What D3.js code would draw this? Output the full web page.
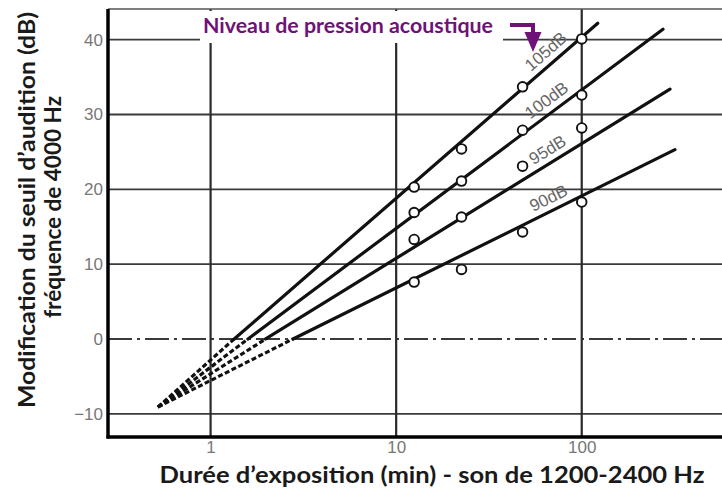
<!DOCTYPE html>
<html>
<head>
<meta charset="utf-8">
<script src="https://cdn.jsdelivr.net/npm/d3@7"></script>
<style>
  html, body { margin: 0; padding: 0; background: #fff; }
  svg { display: block; }
</style>
</head>
<body>
<svg id="chart" width="722" height="488"></svg>
<script>
// Sound pressure levels, one fitted line each
const levels = ["105dB", "100dB", "95dB", "90dB"];
// Exposure durations (min) of the measured points
const durations = [12.5, 22.5, 48, 100];
// Measured threshold shift (dB) at 4000 Hz, per level
const shifts = [
  [20.3, 25.4, 33.7, 40.1],
  [16.9, 21.1, 27.9, 32.6],
  [13.3, 16.3, 23.1, 28.2],
  [7.6, 9.3, 14.3, 18.3]
];
// Fitted lines: common extrapolated origin, zero crossing, far end
const lineStart = [0.52, -9.1];
const zeroCross = [1.34, 1.59, 1.98, 2.78];
const lineEndX = [122, 274, 299, 318];
const lineEndY = [42.2, 41.4, 33.4, 25.3];
// Axis ticks
const xTicks = [1, 10, 100];
const yTicks = [40, 30, 20, 10, 0, -10];

(function () {
const svg = d3.select("#chart");
const pLeft = 108, pRight = 722, pTop = 9, pBottom = 437;

const x = d3.scaleLog().domain([0.28, 570]).range([pLeft, pRight]);
const y = d3.scaleLinear().domain([-13.1, 44.1]).range([pBottom, pTop]);

// Grid
const grid = svg.append("g");
grid.selectAll("line.h").data(yTicks).join("line")
  .attr("x1", pLeft).attr("x2", pRight)
  .attr("y1", d => y(d)).attr("y2", d => y(d))
  .attr("stroke", "#3a3a3a")
  .attr("stroke-width", 1.8)
  .attr("stroke-dasharray", d => d === 0 ? "24 5 3 5" : null);
grid.selectAll("line.v").data(xTicks).join("line")
  .attr("x1", d => x(d)).attr("x2", d => x(d))
  .attr("y1", pTop).attr("y2", pBottom)
  .attr("stroke", "#2a2a2a")
  .attr("stroke-width", 2.2);
// top border
grid.append("line")
  .attr("x1", pLeft).attr("x2", pRight).attr("y1", pTop).attr("y2", pTop)
  .attr("stroke", "#555").attr("stroke-width", 1.6);

// Axes
const axisX = d3.axisBottom(x).tickValues(xTicks).tickFormat(d3.format("d")).tickSize(0).tickPadding(4);
const axisY = d3.axisLeft(y).tickValues(yTicks).tickFormat(d3.format("d")).tickSize(0).tickPadding(5);
const gx = svg.append("g").attr("transform", `translate(0,${pBottom})`).call(axisX);
const gy = svg.append("g").attr("transform", `translate(${pLeft},0)`).call(axisY);
[gx, gy].forEach(g => {
  g.select(".domain").remove();
  g.selectAll("text")
    .attr("fill", "#777")
    .style("font-family", "'Liberation Sans Narrow', 'Liberation Sans', sans-serif")
    .style("font-size", "17px");
});
svg.append("line").attr("x1", pLeft).attr("x2", pLeft).attr("y1", pTop).attr("y2", pBottom + 1.5)
  .attr("stroke", "#000").attr("stroke-width", 3.5);
svg.append("line").attr("x1", pLeft - 1.5).attr("x2", pRight).attr("y1", pBottom).attr("y2", pBottom)
  .attr("stroke", "#000").attr("stroke-width", 3.5);

// Title box over the grid
svg.append("rect").attr("x", 200).attr("y", 11).attr("width", 303).attr("height", 32).attr("fill", "#fff");
svg.append("text")
  .attr("x", 203).attr("y", 33)
  .attr("fill", "#6f1277")
  .style("font-family", "Lato, sans-serif")
  .style("font-weight", "bold")
  .style("font-size", "21px")
  .attr("textLength", 290)
  .attr("lengthAdjust", "spacingAndGlyphs")
  .text("Niveau de pression acoustique");
// bent arrow
svg.append("path")
  .attr("d", "M510,25 H533 V33")
  .attr("fill", "none").attr("stroke", "#6f1277").attr("stroke-width", 4);
svg.append("path")
  .attr("d", "M524.5,32 L541.5,32 L533,52 Z")
  .attr("fill", "#6f1277");

// Fitted lines
const lines = svg.append("g");
levels.forEach((lv, i) => {
  lines.append("line")
    .attr("x1", x(lineStart[0])).attr("y1", y(lineStart[1]))
    .attr("x2", x(zeroCross[i])).attr("y2", y(0))
    .attr("stroke", "#111").attr("stroke-width", 3.2)
    .attr("stroke-dasharray", "5 2.5");
  lines.append("line")
    .attr("x1", x(zeroCross[i])).attr("y1", y(0))
    .attr("x2", x(lineEndX[i])).attr("y2", y(lineEndY[i]))
    .attr("stroke", "#111").attr("stroke-width", 3.2)
    .attr("stroke-linecap", "round");

  // level label laid along the line, between the last two points
  const ax = x(zeroCross[i]), ay = y(0), bx = x(lineEndX[i]), by = y(lineEndY[i]);
  const ang = Math.atan2(by - ay, bx - ax);
  const px = (x(durations[2]) + x(durations[3])) / 2 + 2;
  const t = (px - ax) / (bx - ax);
  const py = ay + t * (by - ay);
  const off = 7;
  const lx = px + off * Math.sin(ang), ly = py - off * Math.cos(ang);
  lines.append("text")
    .attr("transform", `translate(${lx},${ly}) rotate(${ang * 180 / Math.PI})`)
    .attr("text-anchor", "middle")
    .attr("fill", "#666")
    .style("font-family", "'Liberation Sans Narrow', 'Liberation Sans', sans-serif")
    .style("font-size", "17px")
    .text(lv);
});

// Measured points
const pts = svg.append("g");
levels.forEach((lv, i) => {
  pts.selectAll(null).data(durations.map((d, j) => [d, shifts[i][j]])).join("circle")
    .attr("cx", d => x(d[0])).attr("cy", d => y(d[1]))
    .attr("r", 4.8)
    .attr("fill", "#fff")
    .attr("stroke", "#111")
    .attr("stroke-width", 1.9);
});

// Axis titles
svg.append("text")
  .attr("x", 432).attr("y", 483)
  .attr("text-anchor", "middle")
  .attr("fill", "#1a1a1a")
  .style("font-family", "Lato, sans-serif")
  .style("font-weight", "bold")
  .style("font-size", "23px")
  .attr("textLength", 545)
  .attr("lengthAdjust", "spacingAndGlyphs")
  .text("Durée d’exposition (min) - son de 1200-2400 Hz");
const yt = svg.append("g").attr("transform", "translate(0,210) rotate(-90)");
yt.append("text")
  .attr("x", 0).attr("y", 35)
  .attr("text-anchor", "middle")
  .attr("fill", "#1a1a1a")
  .style("font-family", "Lato, sans-serif")
  .style("font-weight", "bold")
  .style("font-size", "23px")
  .attr("textLength", 396)
  .attr("lengthAdjust", "spacingAndGlyphs")
  .text("Modification du seuil d’audition (dB)");
yt.append("text")
  .attr("x", 3).attr("y", 61)
  .attr("text-anchor", "middle")
  .attr("fill", "#1a1a1a")
  .style("font-family", "Lato, sans-serif")
  .style("font-weight", "bold")
  .style("font-size", "23px")
  .attr("textLength", 222)
  .attr("lengthAdjust", "spacingAndGlyphs")
  .text("fréquence de 4000 Hz");
})();
</script>
</body>
</html>
